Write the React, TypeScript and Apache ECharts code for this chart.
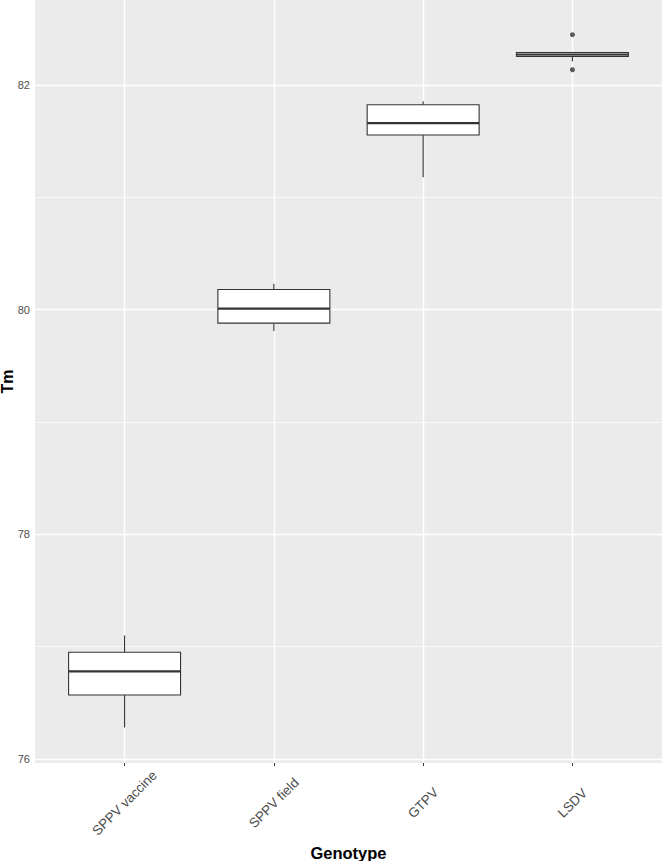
import React, { useEffect, useRef } from "react";
import * as echarts from "echarts";

const categories = ["SPPV vaccine", "SPPV field", "GTPV", "LSDV"];
const lowerWhisker = [76.28, 79.81, 81.18, 82.21];
const q1 = [76.57, 79.88, 81.555, 82.255];
const median = [76.78, 80.01, 81.66, 82.272];
const q3 = [76.95, 80.18, 81.825, 82.29];
const upperWhisker = [77.1, 80.23, 81.855, 82.29];
const outliers: [number, number][] = [
  [3, 82.448],
  [3, 82.136],
];
const yTicks = [76, 78, 80, 82];
const yMinor = [77, 79, 81];

export default function App() {
  const ref = useRef<HTMLDivElement>(null);
  useEffect(() => {
    if (!ref.current) return;
    const chart = echarts.init(ref.current, null, { renderer: "svg" });
    const boxData = categories.map((_, i) => [
      i,
      lowerWhisker[i],
      q1[i],
      median[i],
      q3[i],
      upperWhisker[i],
    ]);
    const font = "Liberation Sans, Arial, Helvetica, sans-serif";
    const option: any = {
      animation: false,
      grid: {
        left: 35,
        right: 0,
        top: 0,
        bottom: 98,
        show: true,
        backgroundColor: "#EBEBEB",
        borderWidth: 0,
        containLabel: false,
        outerBoundsMode: "none",
      },
      graphic: [
        {
          type: "text",
          x: 7,
          y: 381.5,
          rotation: Math.PI / 2,
          style: {
            text: "Tm",
            fontFamily: font,
            fontSize: 16,
            fontWeight: "bold",
            fill: "#000",
            align: "center",
            verticalAlign: "middle",
          },
        },
      ],
      xAxis: {
        type: "value",
        min: -0.6,
        max: 3.6,
        name: "Genotype",
        nameLocation: "middle",
        nameGap: 80,
        nameTextStyle: {
          fontFamily: font,
          fontSize: 16.5,
          fontWeight: "bold",
          color: "#000",
        },
        axisLine: { show: false },
        splitLine: { show: false },
        axisTick: {
          show: true,
          customValues: [0, 1, 2, 3],
          length: 3,
          lineStyle: { color: "#333333", width: 1 },
        },
        axisLabel: {
          customValues: [0, 1, 2, 3],
          formatter: (v: number) => categories[Math.round(v)] ?? "",
          rotate: 45,
          align: "center",
          verticalAlign: "middle",
          margin: 40,
          fontFamily: font,
          fontSize: 13.4,
          color: "#4D4D4D",
        },
      },
      yAxis: {
        type: "value",
        min: 75.964,
        max: 82.757,
        axisLine: { show: false },
        splitLine: { show: false },
        axisTick: {
          show: true,
          customValues: yTicks,
          length: 3,
          lineStyle: { color: "#333333", width: 1 },
        },
        axisLabel: {
          customValues: yTicks,
          margin: 5,
          fontFamily: font,
          fontSize: 11,
          color: "#4D4D4D",
        },
      },
      series: [
        {
          type: "scatter",
          data: [],
          z: 1,
          silent: true,
          markLine: {
            silent: true,
            symbol: ["none", "none"],
            label: { show: false },
            animation: false,
            data: [
              ...yTicks.map((v) => ({
                yAxis: v,
                lineStyle: { color: "#FFFFFF", width: 1.4, type: "solid" },
              })),
              ...yMinor.map((v) => ({
                yAxis: v,
                lineStyle: { color: "#FFFFFF", width: 0.7, type: "solid" },
              })),
              ...categories.map((_, i) => ({
                xAxis: i,
                lineStyle: { color: "#FFFFFF", width: 1.4, type: "solid" },
              })),
            ],
          },
        },
        {
          type: "custom",
          z: 5,
          data: boxData,
          encode: { x: 0, y: [1, 2, 3, 4, 5] },
          renderItem: (params: any, api: any) => {
            const idx = api.value(0);
            const w = api.size([1, 0])[0] * 0.75;
            const pLw = api.coord([idx, api.value(1)]);
            const pQ1 = api.coord([idx, api.value(2)]);
            const pMed = api.coord([idx, api.value(3)]);
            const pQ3 = api.coord([idx, api.value(4)]);
            const pUw = api.coord([idx, api.value(5)]);
            const cx = pQ1[0];
            const stroke = { stroke: "#333333", lineWidth: 1.1 };
            return {
              type: "group",
              children: [
                {
                  type: "line",
                  shape: { x1: cx, y1: pQ3[1], x2: cx, y2: pUw[1] },
                  style: stroke,
                },
                {
                  type: "line",
                  shape: { x1: cx, y1: pQ1[1], x2: cx, y2: pLw[1] },
                  style: stroke,
                },
                {
                  type: "rect",
                  shape: {
                    x: cx - w / 2,
                    y: pQ3[1],
                    width: w,
                    height: pQ1[1] - pQ3[1],
                  },
                  style: { fill: "#FFFFFF", stroke: "#333333", lineWidth: 1.1 },
                },
                {
                  type: "line",
                  shape: {
                    x1: cx - w / 2,
                    y1: pMed[1],
                    x2: cx + w / 2,
                    y2: pMed[1],
                  },
                  style: { stroke: "#333333", lineWidth: 2.2 },
                },
              ],
            };
          },
        },
        {
          type: "scatter",
          z: 6,
          data: outliers,
          symbol: "circle",
          symbolSize: 5,
          itemStyle: { color: "#333333" },
        },
      ],
    };
    chart.setOption(option);
    return () => chart.dispose();
  }, []);
  return (
    <div
      ref={ref}
      style={{ position: "absolute", left: 0, top: 0, width: 662, height: 861 }}
    />
  );
}
